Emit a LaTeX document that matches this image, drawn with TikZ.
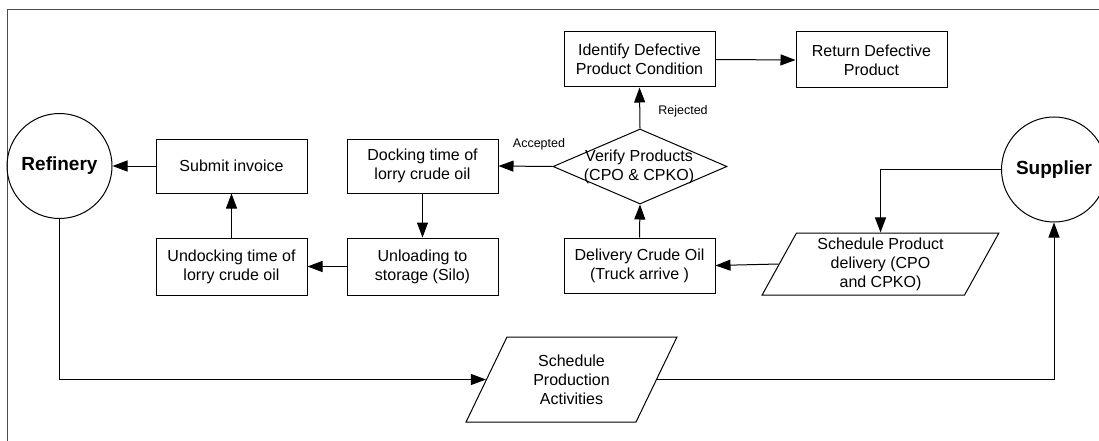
\documentclass[tikz,border=0pt]{standalone}
\usepackage{fontspec}
\setmainfont{Liberation Sans}
\usetikzlibrary{shapes.geometric,arrows.meta}
\begin{document}
\begin{tikzpicture}[x=1pt,y=-1pt,
  txt/.style={font=\fontsize{16}{19}\selectfont,align=center},
  box/.style={txt,draw,line width=1pt,minimum width=151pt,inner sep=0pt},
  ent/.style={circle,draw,line width=1pt,minimum size=105pt,inner sep=0pt,font=\fontsize{19}{22}\selectfont\bfseries},
  para/.style={txt,draw,line width=1pt,trapezium,trapezium left angle=64,trapezium right angle=116,trapezium stretches=true,inner sep=0pt},
  lbl/.style={font=\fontsize{12.5}{14}\selectfont},
  arr/.style={-{Triangle[length=15pt,width=11pt]},line width=1pt},
  con/.style={line width=1pt}
]
\useasboundingbox (0,0) rectangle (1099,441);
\draw[line width=1pt,black!70] (7,450) -- (7,10) -- (1110,10);

\node[ent] (ref) at (59.5,166) {Refinery};
\node[ent] (sup) at (1054,169.5) {Supplier};

\node[box,minimum height=54pt] (sub) at (231.5,166) {Submit invoice};
\node[box,minimum height=57pt] (und) at (231.5,266.5) {Undocking time of\\lorry crude oil};
\node[box,minimum height=54pt] (dock) at (422.5,166) {Docking time of\\lorry crude oil};
\node[box,minimum height=57pt] (unl) at (422.5,266.5) {Unloading to\\storage (Silo)};
\node[box,minimum height=55pt] (idf) at (639.5,59.5) {Identify Defective\\Product Condition};
\node[box,minimum height=56pt] (ret) at (871.5,60) {Return Defective\\Product};
\node[box,minimum height=55pt] (del) at (639.5,265.5) {Delivery Crude Oil\\(Truck arrive )};

\node[diamond,draw,line width=1pt,minimum width=174pt,minimum height=75pt,inner sep=0pt] (ver) at (640,166.5) {};
\node[txt] (vert) at (639,166.5) {Verify Products\\(CPO \& CPKO)};

\node[para,minimum width=237pt,minimum height=62pt] (spd) at (880.5,264) {Schedule Product\\delivery (CPO\\and CPKO)};
\node[para,minimum width=211pt,minimum height=85pt] (spa) at (571.5,379.5) {Schedule\\Production\\Activities};

\node[lbl] (acc) at (539,144) {Accepted};
\node[lbl] (rej) at (683,111) {Rejected};

\draw[arr] (sub.west) -- (ref.east);
\draw[arr] (und.north) -- (sub.south);
\draw[arr] (unl.west) -- (und.east);
\draw[arr] (dock.south) -- (unl.north);
\draw[arr] (ver.west) -- (dock.east);
\draw[arr] (ver.north) -- (idf.south);
\draw[arr] (idf.east) -- (ret.west);
\draw[arr] (del.north) -- (ver.south);
\draw[arr] (spd.west) -- (del.east);
\draw[arr] (sup.west) -| (spd.north);
\draw[arr] (ref.south) |- (spa.west);
\draw[arr] (spa.east) -| (sup.south);
\end{tikzpicture}
\end{document}
